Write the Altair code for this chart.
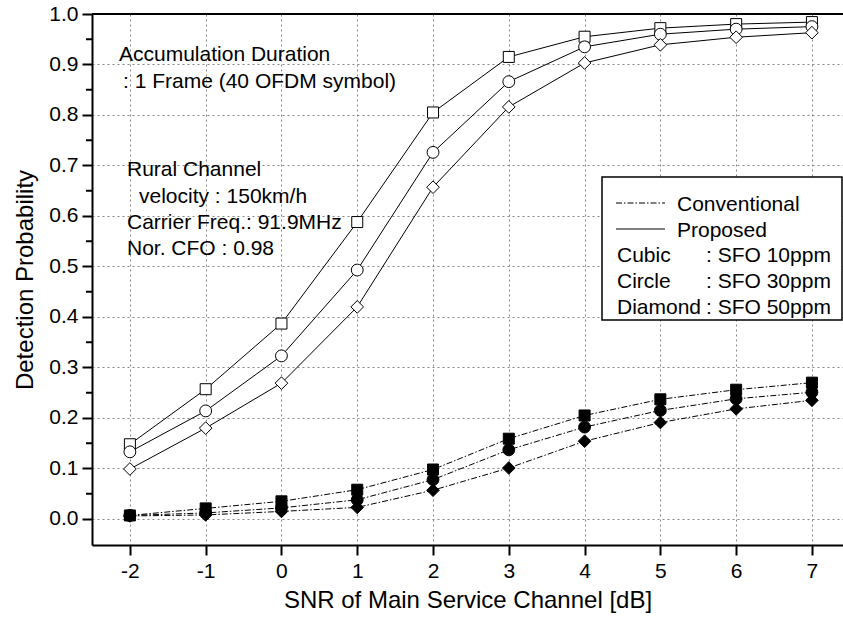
import altair as alt
import pandas as pd

# SNR sweep [dB]
snr = [-2, -1, 0, 1, 2, 3, 4, 5, 6, 7]

# Proposed detector (open markers, solid lines)
prop_sfo10 = [0.148, 0.257, 0.387, 0.588, 0.805, 0.915, 0.955, 0.972, 0.980, 0.984]
prop_sfo30 = [0.133, 0.214, 0.323, 0.493, 0.726, 0.866, 0.935, 0.960, 0.970, 0.975]
prop_sfo50 = [0.099, 0.180, 0.269, 0.420, 0.657, 0.816, 0.903, 0.939, 0.954, 0.963]

# Conventional detector (filled markers, dash-dot lines)
conv_sfo10 = [0.007, 0.021, 0.035, 0.058, 0.098, 0.159, 0.205, 0.237, 0.256, 0.270]
conv_sfo30 = [0.007, 0.012, 0.022, 0.038, 0.078, 0.137, 0.182, 0.215, 0.238, 0.251]
conv_sfo50 = [0.006, 0.008, 0.015, 0.023, 0.057, 0.101, 0.154, 0.191, 0.218, 0.235]

sfo_labels = ["SFO 10ppm", "SFO 30ppm", "SFO 50ppm"]
shape_names = ["square", "circle", "diamond"]
shape_sizes = [121, 160, 230]

y_ticks = [round(0.1 * i, 1) for i in range(11)]
y_minor = [round(0.05 + 0.1 * i, 2) for i in range(10)]

FONT = "Liberation Sans"
TXT = 21
W, H = 751, 531
X_DOM = [-2.5, 7.41]
Y_DOM = [-0.0515, 1.0]

rows = []
for method, series in [("Proposed", [prop_sfo10, prop_sfo30, prop_sfo50]),
                       ("Conventional", [conv_sfo10, conv_sfo30, conv_sfo50])]:
    for sfo, vals in zip(sfo_labels, series):
        for s, v in zip(snr, vals):
            rows.append({"snr": s, "pd": v, "method": method, "sfo": sfo})
df = pd.DataFrame(rows)

x_enc = alt.X("snr:Q", scale=alt.Scale(domain=X_DOM, nice=False, zero=False),
              axis=alt.Axis(values=snr, labelExpr="'' + datum.value",
                            title="SNR of Main Service Channel [dB]"))
y_enc = alt.Y("pd:Q", scale=alt.Scale(domain=Y_DOM, nice=False, zero=False),
              axis=alt.Axis(values=y_ticks, format=".1f", title="Detection Probability"))

shape_scale = alt.Scale(domain=sfo_labels, range=shape_names)
size_scale = alt.Scale(domain=sfo_labels, range=shape_sizes)

base = alt.Chart(df).encode(x=x_enc, y=y_enc)

prop_lines = base.transform_filter(alt.datum.method == "Proposed").mark_line(
    color="black", strokeWidth=1).encode(detail="sfo:N")
conv_lines = base.transform_filter(alt.datum.method == "Conventional").mark_line(
    color="black", strokeWidth=1, strokeDash=[6, 2, 1.5, 2]).encode(detail="sfo:N")

prop_pts = base.transform_filter(alt.datum.method == "Proposed").mark_point(
    filled=True, fill="white", stroke="black", strokeWidth=1, opacity=1).encode(
    shape=alt.Shape("sfo:N", scale=shape_scale, legend=None),
    size=alt.Size("sfo:N", scale=size_scale, legend=None))
conv_pts = base.transform_filter(alt.datum.method == "Conventional").mark_point(
    filled=True, fill="black", stroke="black", strokeWidth=1, opacity=1).encode(
    shape=alt.Shape("sfo:N", scale=shape_scale, legend=None),
    size=alt.Size("sfo:N", scale=size_scale, legend=None))

# minor ticks on the left axis
minor = alt.Chart(pd.DataFrame({"pd": y_minor})).mark_rule(
    color="black", strokeWidth=2).encode(
    y=alt.Y("pd:Q", scale=alt.Scale(domain=Y_DOM, nice=False, zero=False)),
    x=alt.value(-6), x2=alt.value(0))

# top frame line
top_line = alt.Chart(pd.DataFrame({"a": [0]})).mark_rule(
    color="black", strokeWidth=2).encode(
    x=alt.value(0), x2=alt.value(W), y=alt.value(0))

# text annotations (pixel positions inside the plot area)
notes = pd.DataFrame({
    "text": ["Accumulation Duration", ": 1 Frame (40 OFDM symbol)",
             "Rural Channel", "velocity : 150km/h",
             "Carrier Freq.: 91.9MHz", "Nor. CFO : 0.98"],
    "px": [27, 31, 35, 47, 35, 35],
    "py": [47, 74, 162, 189, 215, 241],
})
note_layer = alt.Chart(notes).mark_text(
    align="left", baseline="alphabetic", font=FONT, fontSize=TXT, color="black").encode(
    x=alt.X("px:Q", scale=None), y=alt.Y("py:Q", scale=None), text="text:N")

# legend box
box = alt.Chart(pd.DataFrame({"a": [0]})).mark_rect(
    fill="white", stroke="black", strokeWidth=1.5).encode(
    x=alt.value(510), x2=alt.value(750), y=alt.value(163), y2=alt.value(306))

leg_lines = pd.DataFrame({"kind": ["Conventional", "Proposed"],
                          "x0": [524, 524], "x1": [573, 573], "yy": [189, 215]})
leg_conv = alt.Chart(leg_lines).transform_filter(alt.datum.kind == "Conventional").mark_rule(
    color="black", strokeWidth=1, strokeDash=[6, 2, 1.5, 2]).encode(
    x=alt.X("x0:Q", scale=None), x2="x1:Q", y=alt.Y("yy:Q", scale=None))
leg_prop = alt.Chart(leg_lines).transform_filter(alt.datum.kind == "Proposed").mark_rule(
    color="black", strokeWidth=1).encode(
    x=alt.X("x0:Q", scale=None), x2="x1:Q", y=alt.Y("yy:Q", scale=None))

leg_text = pd.DataFrame({
    "text": ["Conventional", "Proposed", "Cubic", "Circle", "Diamond",
             ": SFO 10ppm", ": SFO 30ppm", ": SFO 50ppm"],
    "px": [585, 585, 525, 525, 525, 614, 614, 614],
    "py": [197, 223, 248, 274, 300, 248, 274, 300],
})
leg_text_layer = alt.Chart(leg_text).mark_text(
    align="left", baseline="alphabetic", font=FONT, fontSize=TXT, color="black").encode(
    x=alt.X("px:Q", scale=None), y=alt.Y("py:Q", scale=None), text="text:N")

chart = alt.layer(
    prop_lines, conv_lines, prop_pts, conv_pts, minor, top_line,
    note_layer, box, leg_conv, leg_prop, leg_text_layer
).properties(
    width=W, height=H,
    autosize=alt.AutoSizeParams(type="none"),
    padding={"left": 92, "top": 14, "right": 0, "bottom": 79},
).configure_view(stroke=None).configure_axis(
    domainColor="black", domainWidth=2,
    tickColor="black", tickWidth=2, tickSize=10,
    labelFont=FONT, labelFontSize=TXT, labelColor="black",
    titleFont=FONT, titleFontSize=24, titleFontWeight="normal", titleColor="black",
    grid=True, gridColor="#888888", gridDash=[2, 3], gridWidth=1,
).configure_axisX(labelPadding=5, titlePadding=7).configure_axisY(
    labelPadding=4, titlePadding=11)

chart.save("out.html", embed_options={"renderer": "svg", "actions": False})
